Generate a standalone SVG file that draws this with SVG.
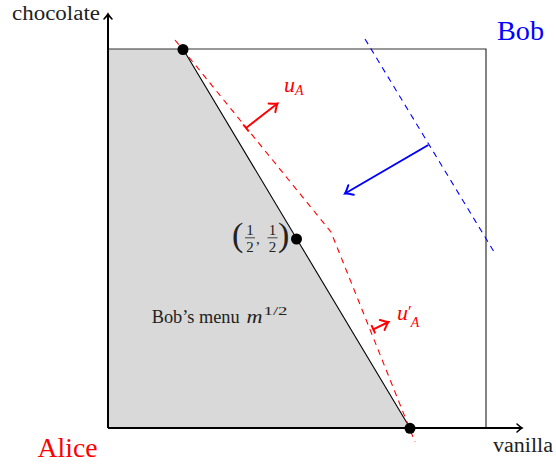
<svg xmlns="http://www.w3.org/2000/svg" width="556" height="466" viewBox="0 0 556 466">
<style>
.t{font-family:"Liberation Serif","DejaVu Serif",serif;}
.it{font-style:italic;}
.dash{fill:none;stroke-width:1.1;stroke-dasharray:6 5;}
</style>
<defs>
<marker id="arrK" markerUnits="userSpaceOnUse" viewBox="-8 -6 10 12" refX="0" refY="0" markerWidth="10" markerHeight="12" orient="auto" overflow="visible">
<path d="M-5,-4 Q-1.5,-0.8 0,0 Q-1.5,0.8 -5,4" fill="none" stroke="#000" stroke-width="1.6" stroke-linecap="round"/>
</marker>
<marker id="arrR" markerUnits="userSpaceOnUse" viewBox="-10 -7 12 14" refX="0" refY="0" markerWidth="12" markerHeight="14" orient="auto" overflow="visible">
<path d="M-7,-5.5 Q-2,-1 0,0 Q-2,1 -7,5.5" fill="none" stroke="#ff0000" stroke-width="2" stroke-linecap="round"/>
</marker>
<marker id="arrB" markerUnits="userSpaceOnUse" viewBox="-10 -7 12 14" refX="0" refY="0" markerWidth="12" markerHeight="14" orient="auto" overflow="visible">
<path d="M-7,-5.5 Q-2,-1 0,0 Q-2,1 -7,5.5" fill="none" stroke="#0000ff" stroke-width="2" stroke-linecap="round"/>
</marker>
</defs>
<rect width="556" height="466" fill="#fff"/>

<g id="menu-region">
<polygon points="108,428 108,49 183,49 410,428" fill="#d9d9d9"/>
</g>

<g id="box">
<polyline points="108,49 486,49 486,428" fill="none" stroke="#333" stroke-width="1.2"/>
</g>

<g id="menu-boundary">
<line x1="183" y1="49" x2="410" y2="428" stroke="#000" stroke-width="1.1"/>
</g>

<g id="axes">
<line x1="108" y1="428" x2="108" y2="14" stroke="#000" stroke-width="2" marker-end="url(#arrK)"/>
<line x1="108" y1="428" x2="522" y2="428" stroke="#000" stroke-width="2" marker-end="url(#arrK)"/>
</g>

<g id="connectors">
<polyline class="dash" stroke="#ff0000" points="175,40 331,232 415,442"/>
<line class="dash" stroke="#0000ff" x1="365" y1="39" x2="493.5" y2="251"/>
<line x1="428.3" y1="145" x2="345" y2="193.5" stroke="#0000ff" stroke-width="2" marker-end="url(#arrB)"/>
<line x1="246" y1="128" x2="277.5" y2="103.5" stroke="#ff0000" stroke-width="2" marker-end="url(#arrR)"/>
<line x1="243.2" y1="124.5" x2="248.8" y2="131.5" stroke="#ff0000" stroke-width="2"/>
<line x1="373.3" y1="329.3" x2="388.5" y2="322" stroke="#ff0000" stroke-width="2" marker-end="url(#arrR)"/>
<line x1="371.4" y1="325.2" x2="375.2" y2="333.4" stroke="#ff0000" stroke-width="2"/>
</g>

<g id="points">
<circle cx="183" cy="49.5" r="5.5" fill="#000"/>
<circle cx="296.5" cy="239" r="5.5" fill="#000"/>
<circle cx="410" cy="428.3" r="5.5" fill="#000"/>
</g>

<g id="labels" class="t">
<text x="12" y="20" font-size="20" textLength="88" lengthAdjust="spacingAndGlyphs" fill="#222">chocolate</text>
<text x="493" y="452" font-size="20" textLength="60" lengthAdjust="spacingAndGlyphs" fill="#222">vanilla</text>
<text x="37.5" y="457" font-size="28" textLength="60" lengthAdjust="spacingAndGlyphs" fill="#ff0000">Alice</text>
<text x="497" y="40" font-size="28" textLength="47" lengthAdjust="spacingAndGlyphs" fill="#0000ff">Bob</text>

<g id="menu-label" fill="#222">
<text x="151.7" y="322.5" font-size="18" textLength="88" lengthAdjust="spacingAndGlyphs">Bob’s menu</text>
<text x="246.5" y="322.5" font-size="19" class="it" textLength="16" lengthAdjust="spacingAndGlyphs">m</text>
<text x="263.5" y="314.5" font-size="12.5" textLength="24" lengthAdjust="spacingAndGlyphs">1/2</text>
</g>

<g id="half-label" fill="#222">
<text x="232" y="246" font-size="34" font-weight="300">(</text>
<text x="250" y="235" font-size="15" text-anchor="middle">1</text>
<line x1="245" y1="237.8" x2="255" y2="237.8" stroke="#222" stroke-width="0.8"/>
<text x="250" y="252" font-size="15" text-anchor="middle">2</text>
<text x="256" y="244" font-size="15">,</text>
<text x="272.5" y="235" font-size="15" text-anchor="middle">1</text>
<line x1="267.5" y1="237.8" x2="277.5" y2="237.8" stroke="#222" stroke-width="0.8"/>
<text x="272.5" y="252" font-size="15" text-anchor="middle">2</text>
<text x="278" y="246" font-size="34" font-weight="300">)</text>
</g>

<g id="uA-label" fill="#ff0000">
<text x="284" y="91.7" font-size="22" class="it">u<tspan dy="2.8" font-size="14">A</tspan></text>
</g>
<g id="uA2-label" fill="#ff0000">
<text x="397" y="320" font-size="22" class="it">u<tspan dx="0" dy="-3" font-size="17" font-style="normal">′</tspan><tspan dx="-1" dy="9.7" font-size="14">A</tspan></text>
</g>
</g>
</svg>
